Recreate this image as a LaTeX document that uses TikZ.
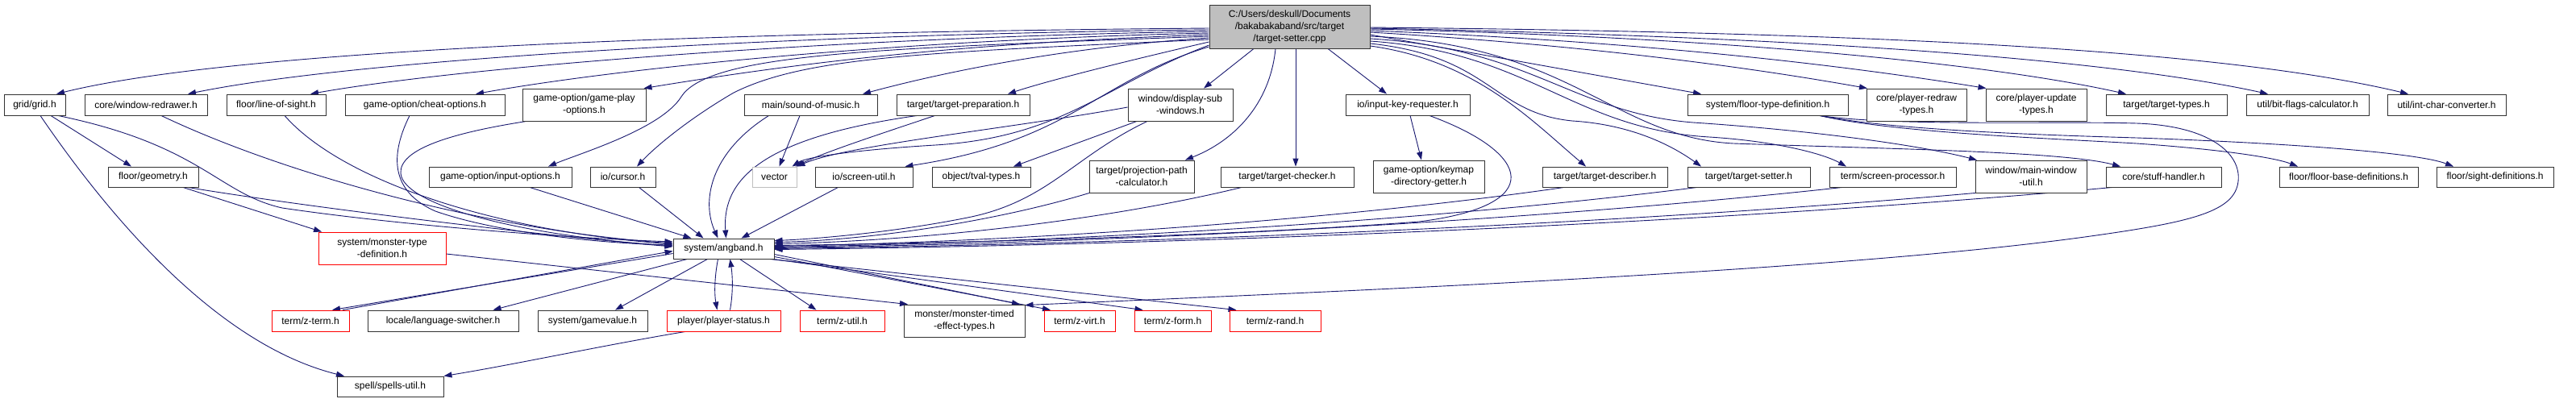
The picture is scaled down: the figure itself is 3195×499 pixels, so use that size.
\documentclass[tikz,border=0pt]{standalone}
\usepackage{fontspec}
\setmainfont{Liberation Sans}
\usetikzlibrary{arrows.meta}
\definecolor{eblue}{HTML}{191970}
\definecolor{rootfill}{HTML}{BFBFBF}
\pgfdeclarelayer{bg}
\pgfsetlayers{bg,main}
\newcommand\nd[7]{\node[#7,minimum width={(#4-#2)*1pt},minimum height={(#5-#3)*1pt}] (#1) at ({(#2+#4)/2},{(#3+#5)/2}) {#6};}
\tikzset{
  box/.style={draw=black!80, fill=white, line width=0.9pt, inner sep=0pt, align=center, text=black, font=\fontsize{12}{15}\selectfont},
  redb/.style={box, draw=red},
  grayb/.style={box, draw=rootfill},
  rootb/.style={box, fill=rootfill},
  e/.style={draw=eblue, line width=0.9pt, -{Triangle[length=10pt,width=7pt]}}
}
\begin{document}
\begin{tikzpicture}[x=1pt,y=-1pt]
\useasboundingbox (0,0) rectangle (3195,499);
% row 0
\nd{root}{1500}{6}{1699}{60}{C:/Users/deskull/Documents\\/bakabakaband/src/target\\/target-setter.cpp}{rootb}
% row 1
\nd{grid}{5}{117}{81}{143}{grid/grid.h}{box}
\nd{wredraw}{105}{117}{257}{143}{core/window-redrawer.h}{box}
\nd{los}{281}{117}{404}{143}{floor/line-of-sight.h}{box}
\nd{cheat}{428}{117}{626}{143}{game-option/cheat-options.h}{box}
\nd{gameplay}{648}{110}{801}{150}{game-option/game-play\\-options.h}{box}
\nd{sound}{923}{117}{1088}{143}{main/sound-of-music.h}{box}
\nd{tprep}{1112}{117}{1277}{143}{target/target-preparation.h}{box}
\nd{dsub}{1399}{110}{1529}{150}{window/display-sub\\-windows.h}{box}
\nd{ikr}{1669}{117}{1823}{143}{io/input-key-requester.h}{box}
\nd{ftd}{2093}{117}{2292}{143}{system/floor-type-definition.h}{box}
\nd{predraw}{2315}{110}{2439}{150}{core/player-redraw\\-types.h}{box}
\nd{pupdate}{2463}{110}{2588}{150}{core/player-update\\-types.h}{box}
\nd{ttypes}{2612}{117}{2762}{143}{target/target-types.h}{box}
\nd{bitflags}{2786}{117}{2938}{143}{util/bit-flags-calculator.h}{box}
\nd{intchar}{2961}{117}{3108}{143}{util/int-char-converter.h}{box}
% row 2
\nd{geom}{134}{207}{246}{232}{floor/geometry.h}{box}
\nd{inopt}{532}{207}{709}{232}{game-option/input-options.h}{box}
\nd{cursor}{732}{207}{813}{232}{io/cursor.h}{box}
\nd{vector}{933}{207}{988}{232}{vector}{grayb}
\nd{sutil}{1011}{207}{1132}{232}{io/screen-util.h}{box}
\nd{tval}{1156}{207}{1278}{232}{object/tval-types.h}{box}
\nd{ppc}{1351}{199}{1481}{239}{target/projection-path\\-calculator.h}{box}
\nd{tcheck}{1514}{207}{1679}{232}{target/target-checker.h}{box}
\nd{keymap}{1703}{199}{1841}{239}{game-option/keymap\\-directory-getter.h}{box}
\nd{tdesc}{1913}{207}{2068}{232}{target/target-describer.h}{box}
\nd{tset}{2093}{207}{2245}{232}{target/target-setter.h}{box}
\nd{sproc}{2269}{207}{2426}{232}{term/screen-processor.h}{box}
\nd{mwu}{2450}{199}{2588}{239}{window/main-window\\-util.h}{box}
\nd{stuff}{2612}{207}{2755}{232}{core/stuff-handler.h}{box}
\nd{fbase}{2827}{207}{2999}{232}{floor/floor-base-definitions.h}{box}
\nd{sight}{3022}{207}{3167}{232}{floor/sight-definitions.h}{box}
% row 3
\nd{mtd}{395}{288}{553}{328}{system/monster-type\\-definition.h}{redb}
\nd{angband}{835}{296}{960}{321}{system/angband.h}{box}
% row 4
\nd{zterm}{337}{385}{433}{411}{term/z-term.h}{redb}
\nd{lang}{456}{385}{643}{411}{locale/language-switcher.h}{box}
\nd{gamev}{667}{385}{803}{411}{system/gamevalue.h}{box}
\nd{pstatus}{827}{385}{968}{411}{player/player-status.h}{redb}
\nd{zutil}{992}{385}{1097}{411}{term/z-util.h}{redb}
\nd{mtet}{1121}{378}{1271}{418}{monster/monster-timed\\-effect-types.h}{box}
\nd{zvirt}{1295}{385}{1383}{411}{term/z-virt.h}{redb}
\nd{zform}{1407}{385}{1502}{411}{term/z-form.h}{redb}
\nd{zrand}{1525}{385}{1638}{411}{term/z-rand.h}{redb}
% row 5
\nd{spells}{418}{467}{550}{492}{spell/spells-util.h}{box}

\begin{pgfonlayer}{bg}
\fill[white] (0,0) rectangle (3195,499);
% root -> left row 1
\draw[e] ([yshift=-2pt]root.west) .. controls (900,40) and (300,60) .. ([xshift=27pt]grid.north);
\draw[e] ([yshift=-4pt]root.west) .. controls (1000,42) and (450,72) .. ([xshift=52pt]wredraw.north);
\draw[e] ([yshift=-6pt]root.west) .. controls (1050,46) and (580,82) .. ([xshift=42.5pt]los.north);
\draw[e] ([yshift=-8pt]root.west) .. controls (1100,50) and (760,86) .. ([xshift=63pt]cheat.north);
\draw[e] ([yshift=-10pt]root.west) .. controls (1150,55) and (950,85) .. ([xshift=74pt]gameplay.north);
\draw[e] ([yshift=-14pt]root.west) .. controls (1300,60) and (1150,95) .. ([xshift=64.5pt]sound.north);
\draw[e] ([yshift=-19pt]root.west) .. controls (1400,75) and (1300,100) .. ([xshift=55.5pt]tprep.north);
% root -> left row 2
\draw[e] ([yshift=-12pt]root.west) .. controls (1100,60) and (880,65) .. (845,120) .. controls (820,160) and (720,190) .. ([xshift=59.5pt]inopt.north);
\draw[e] ([yshift=-16pt]root.west) .. controls (1150,65) and (1000,70) .. (910,115) .. controls (850,150) and (810,185) .. ([xshift=17.5pt]cursor.north);
\draw[e] ([yshift=-23pt]root.west) .. controls (1370,105) and (1320,170) .. (1160,180) .. controls (1060,186) and (1000,195) .. ([xshift=22pt]vector.north);
\draw[e] ([yshift=-25pt]root.west) .. controls (1360,100) and (1330,175) .. ([xshift=51pt]sutil.north);
% root -> below
\draw[e] ([xshift=-44.5pt]root.south) -- ([xshift=29pt]dsub.north);
\draw[e] ([xshift=-17.5pt]root.south) .. controls (1575,130) and (1530,175) .. ([xshift=54pt]ppc.north);
\draw[e] ([xshift=7.5pt]root.south) -- ([xshift=10.5pt]tcheck.north);
\draw[e] ([xshift=47.5pt]root.south) -- ([xshift=-26pt]ikr.north);
% root -> right row 2
\draw[e] ([yshift=-24pt]root.east) .. controls (1830,75) and (1900,150) .. ([xshift=-23.5pt]tdesc.north);
\draw[e] ([yshift=-21pt]root.east) .. controls (1850,70) and (1850,140) .. (1950,150) .. controls (2030,155) and (2080,185) .. ([xshift=-59pt]tset.north);
\draw[e] ([yshift=-18pt]root.east) .. controls (1900,65) and (1950,160) .. (2120,170) .. controls (2200,175) and (2260,190) .. ([xshift=-57.5pt]sproc.north);
\draw[e] ([yshift=-15pt]root.east) .. controls (1900,60) and (1950,140) .. (2100,152) .. controls (2250,162) and (2380,180) .. ([xshift=-67pt]mwu.north);
\draw[e] ([yshift=-12pt]root.east) .. controls (1950,55) and (2000,170) .. (2150,178) .. controls (2350,185) and (2560,188) .. ([xshift=-53.5pt]stuff.north);
% root -> right row 1
\draw[e] ([yshift=-10pt]root.east) -- ([xshift=-82.5pt]ftd.north);
\draw[e] ([yshift=-7pt]root.east) .. controls (1950,55) and (2150,80) .. ([xshift=-61pt]predraw.north);
\draw[e] ([yshift=-5pt]root.east) .. controls (2000,50) and (2250,75) .. ([xshift=-62pt]pupdate.north);
\draw[e] ([yshift=-3pt]root.east) .. controls (2100,45) and (2450,75) .. ([xshift=-50pt]ttypes.north);
\draw[e] ([yshift=-2pt]root.east) .. controls (2200,45) and (2600,70) .. ([xshift=-49pt]bitflags.north);
\draw[e] ([yshift=-1pt]root.east) .. controls (2300,40) and (2750,60) .. ([xshift=-47.5pt]intchar.north);
% second level
\draw[e] ([xshift=3pt]ikr.south) -- ([xshift=-9pt]keymap.north);
\draw[e] ([xshift=-13.5pt]sound.south) -- ([xshift=6pt]vector.north);
\draw[e] ([xshift=-35pt]tprep.south) .. controls (1080,170) and (1020,190) .. ([xshift=26pt]vector.north);
\draw[e] ([yshift=-3pt]dsub.west) .. controls (1250,160) and (1050,180) .. (vector.north east);
\draw[e] ([xshift=-54pt]dsub.south) -- ([xshift=40pt]tval.north);
\draw[e] ([xshift=20pt]grid.south) -- ([xshift=-27pt]geom.north);
\draw[e] ([xshift=7pt]grid.south) .. controls (150,290) and (280,430) .. ([xshift=-57pt]spells.north);
\draw[e] ([xshift=37pt]geom.south) -- ([xshift=-75pt]mtd.north);
\draw[e] ([yshift=-7pt]mtd.east) -- ([xshift=-70pt]mtet.north);
% floor-type-definition
\draw[e] ([xshift=64.5pt]ftd.south) .. controls (2350,157) and (2550,150) .. (2650,153) .. controls (2740,156) and (2780,190) .. (2776,225) .. controls (2772,262) and (2720,275) .. (2600,292) .. controls (2300,335) and (1700,360) .. ([yshift=-1pt]mtet.north east);
\draw[e] ([xshift=64.5pt]ftd.south) .. controls (2350,165) and (2550,172) .. (2650,178) .. controls (2750,185) and (2820,195) .. ([xshift=-63pt]fbase.north);
\draw[e] ([xshift=64.5pt]ftd.south) .. controls (2350,162) and (2550,168) .. (2650,171) .. controls (2850,178) and (3000,190) .. ([xshift=-51.5pt]sight.north);
% into angband from the left
\draw[e] ([xshift=29pt]grid.south) .. controls (250,180) and (270,240) .. (350,258) .. controls (500,280) and (700,295) .. ([yshift=8.5pt]angband.west);
\draw[e] ([xshift=19pt]wredraw.south) .. controls (350,215) and (600,285) .. ([yshift=6.5pt]angband.west);
\draw[e] ([xshift=10.5pt]los.south) .. controls (420,220) and (600,285) .. ([yshift=5.5pt]angband.west);
\draw[e] ([xshift=-19pt]cheat.south) .. controls (480,200) and (490,240) .. (540,262) .. controls (620,290) and (750,302) .. ([yshift=4.5pt]angband.west);
\draw[e] ([xshift=-71.5pt]gameplay.south) .. controls (560,165) and (495,185) .. (497,215) .. controls (500,255) and (650,293) .. ([yshift=3.5pt]angband.west);
\draw[e] ([xshift=43pt]geom.south) .. controls (400,260) and (700,295) .. ([yshift=2.5pt]angband.west);
\draw[e] ([xshift=40pt]zterm.north) -- ([yshift=-3pt]angband.west);
% into angband from above
\draw[e] ([xshift=36.5pt]inopt.south) -- ([xshift=-40pt]angband.north);
\draw[e] ([xshift=20pt]cursor.south) -- ([xshift=-25pt]angband.north);
\draw[e] ([xshift=-52pt]sound.south) .. controls (880,190) and (870,250) .. ([xshift=-7pt]angband.north);
\draw[e] ([xshift=-57pt]tprep.south) .. controls (950,170) and (895,220) .. ([xshift=3pt]angband.north);
\draw[e] ([xshift=-32pt]sutil.south) -- ([xshift=22pt]angband.north);
% into angband from the right
\draw[e] ([xshift=-41pt]dsub.south) .. controls (1330,195) and (1300,250) .. (1200,270) .. controls (1100,290) and (1000,297) .. ([yshift=10pt]angband.east);
\draw[e] ([xshift=-65pt]ppc.south) .. controls (1234,275) and (1077,298) .. ([yshift=8pt]angband.east);
\draw[e] ([xshift=-56.5pt]tcheck.south) .. controls (1366,275) and (1134,299) .. ([yshift=6pt]angband.east);
\draw[e] ([xshift=27pt]ikr.south) .. controls (1900,190) and (1920,255) .. (1760,275) .. controls (1500,295) and (1100,303) .. ([yshift=4pt]angband.east);
\draw[e] ([xshift=-50.5pt]tdesc.south) .. controls (1646,275) and (1254,300) .. ([yshift=3pt]angband.east);
\draw[e] ([xshift=-64pt]tset.south) .. controls (1762,276) and (1303,301) .. ([yshift=2pt]angband.east);
\draw[e] ([xshift=-62.5pt]sproc.south) .. controls (1887,276) and (1357,302) .. ([yshift=1pt]angband.east);
\draw[e] ([xshift=-69pt]mwu.south) .. controls (2003,279) and (1407,303) .. (angband.east);
\draw[e] ([xshift=-63.5pt]stuff.south) .. controls (2122,278) and (1458,304) .. ([yshift=-1pt]angband.east);
\draw[e] ([xshift=8pt]pstatus.north) .. controls (909,365) and (909,345) .. ([xshift=8pt]angband.south);
% out of angband
\draw[e] ([yshift=-6pt]angband.west) -- ([xshift=27pt]zterm.north);
\draw[e] ([xshift=-45pt]angband.south) -- ([xshift=62pt]lang.north);
\draw[e] ([xshift=-20pt]angband.south) -- ([xshift=28pt]gamev.north);
\draw[e] ([xshift=-7pt]angband.south) .. controls (886,345) and (886,365) .. ([xshift=-8pt]pstatus.north);
\draw[e] ([xshift=20pt]angband.south) -- ([xshift=-32pt]zutil.north);
\draw[e] ([yshift=-7pt]angband.east) -- ([xshift=69pt]mtet.north);
\draw[e] ([yshift=-10pt]angband.east) -- ([xshift=-36pt]zvirt.north);
\draw[e] ([xshift=-2pt]angband.south east) -- ([xshift=-37pt]zform.north);
\draw[e] ([xshift=-6pt]angband.south east) -- ([xshift=-48pt]zrand.north);
\draw[e] ([xshift=-47.5pt]pstatus.south) .. controls (750,428) and (640,452) .. (spells.north east);
\end{pgfonlayer}
\end{tikzpicture}
\end{document}
